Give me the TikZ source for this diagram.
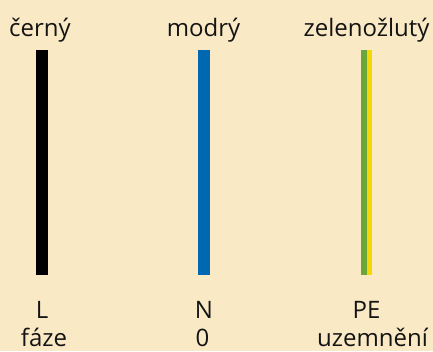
\documentclass[tikz,border=0pt]{standalone}
\usepackage{fontspec}
\setmainfont{Open Sans}
\definecolor{bg}{HTML}{FAE9C5}
\definecolor{wblue}{HTML}{0068B0}
\definecolor{wgreen}{HTML}{6CA53A}
\definecolor{wyellow}{HTML}{F6D700}
\begin{document}
\begin{tikzpicture}[x=1pt,y=-1pt,
  lbl/.style={anchor=base,inner sep=0pt,font=\fontsize{24}{28}\selectfont,text=black!92}]
\fill[bg] (0,0) rectangle (433,351);
\useasboundingbox (0,0) rectangle (433,351);
% bars
\fill[black] (36,50) rectangle (48,275);
\fill[wblue] (198,50) rectangle (210,275);
\fill[wgreen] (361,50) rectangle (366.5,275);
\fill[wyellow] (366.5,50) rectangle (372,275);
% top labels
\node[lbl] (c1) at (40,36) {černý};
\node[lbl] (c2) at (203.5,36) {modrý};
\node[lbl] (c3) at (366.5,36) {zelenožlutý};
% bottom labels
\node[lbl] (s1) at (42,318) {L};
\node[lbl] (s2) at (204,318) {N};
\node[lbl] (s3) at (366.5,318) {PE};
\node[lbl] (d1) at (44,346.5) {fáze};
\node[lbl] (d2) at (202.5,346.5) {0};
\node[lbl] (d3) at (372.5,346.5) {uzemnění};
\end{tikzpicture}
\end{document}
